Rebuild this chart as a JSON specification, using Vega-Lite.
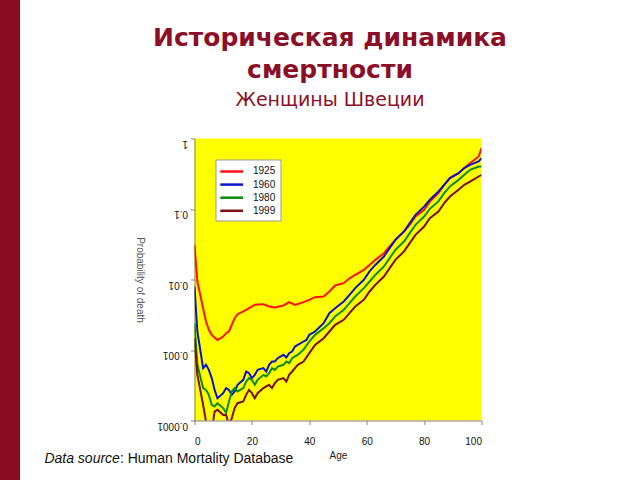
{
  "$schema": "https://vega.github.io/schema/vega-lite/v6.json",
  "background": "white",
  "padding": {"left": 0, "top": 0, "right": 0, "bottom": 0},
  "spacing": 23.5,
  "center": true,
  "bounds": "full",
  "resolve": {"legend": {"color": "independent"}},
  "config": {"font": "Liberation Sans", "view": {"stroke": null}},
  "datasets": {
    "mortality": [
      {"age":0,"year":"1925","q":0.031},{"age":1,"year":"1925","q":0.00937},{"age":3,"year":"1925","q":0.00392},{"age":4,"year":"1925","q":0.00254},{"age":5,"year":"1925","q":0.00193},{"age":6,"year":"1925","q":0.00164},{"age":7,"year":"1925","q":0.0015},{"age":8,"year":"1925","q":0.00139},{"age":10,"year":"1925","q":0.00155},{"age":11,"year":"1925","q":0.00173},{"age":12,"year":"1925","q":0.00183},{"age":13,"year":"1925","q":0.00228},{"age":14,"year":"1925","q":0.00283},{"age":15,"year":"1925","q":0.00322},{"age":17,"year":"1925","q":0.00352},{"age":18,"year":"1925","q":0.00371},{"age":19,"year":"1925","q":0.00392},{"age":20,"year":"1925","q":0.00414},{"age":21,"year":"1925","q":0.00437},{"age":24,"year":"1925","q":0.00447},{"age":26,"year":"1925","q":0.00414},{"age":28,"year":"1925","q":0.00401},{"age":31,"year":"1925","q":0.00428},{"age":33,"year":"1925","q":0.00477},{"age":35,"year":"1925","q":0.00437},{"age":38,"year":"1925","q":0.00477},{"age":40,"year":"1925","q":0.00515},{"age":42,"year":"1925","q":0.00562},{"age":45,"year":"1925","q":0.00574},{"age":47,"year":"1925","q":0.00676},{"age":49,"year":"1925","q":0.00822},{"age":52,"year":"1925","q":0.00887},{"age":54,"year":"1925","q":0.0104},{"age":56,"year":"1925","q":0.0116},{"age":59,"year":"1925","q":0.0137},{"age":61,"year":"1925","q":0.0161},{"age":63,"year":"1925","q":0.019},{"age":66,"year":"1925","q":0.0236},{"age":68,"year":"1925","q":0.0294},{"age":70,"year":"1925","q":0.0365},{"age":73,"year":"1925","q":0.048},{"age":75,"year":"1925","q":0.0596},{"age":77,"year":"1925","q":0.0783},{"age":80,"year":"1925","q":0.0973},{"age":82,"year":"1925","q":0.128},{"age":85,"year":"1925","q":0.168},{"age":87,"year":"1925","q":0.22},{"age":89,"year":"1925","q":0.274},{"age":92,"year":"1925","q":0.322},{"age":94,"year":"1925","q":0.38},{"age":96,"year":"1925","q":0.447},{"age":99,"year":"1925","q":0.556},{"age":100,"year":"1925","q":0.729},
      {"age":0,"year":"1960","q":0.00796},{"age":1,"year":"1960","q":0.00183},{"age":3,"year":"1960","q":0.000553},{"age":4,"year":"1960","q":0.000616},{"age":5,"year":"1960","q":0.000523},{"age":6,"year":"1960","q":0.000399},{"age":7,"year":"1960","q":0.000272},{"age":8,"year":"1960","q":0.000207},{"age":10,"year":"1960","q":0.000244},{"age":11,"year":"1960","q":0.000288},{"age":12,"year":"1960","q":0.000272},{"age":13,"year":"1960","q":0.000231},{"age":14,"year":"1960","q":0.000258},{"age":15,"year":"1960","q":0.000321},{"age":17,"year":"1960","q":0.000377},{"age":18,"year":"1960","q":0.000495},{"age":19,"year":"1960","q":0.000469},{"age":20,"year":"1960","q":0.000399},{"age":21,"year":"1960","q":0.000444},{"age":22,"year":"1960","q":0.000523},{"age":24,"year":"1960","q":0.000553},{"age":25,"year":"1960","q":0.000495},{"age":26,"year":"1960","q":0.000616},{"age":27,"year":"1960","q":0.000687},{"age":28,"year":"1960","q":0.000687},{"age":29,"year":"1960","q":0.000766},{"age":31,"year":"1960","q":0.000854},{"age":32,"year":"1960","q":0.000783},{"age":33,"year":"1960","q":0.000902},{"age":34,"year":"1960","q":0.000952},{"age":35,"year":"1960","q":0.00112},{"age":36,"year":"1960","q":0.00118},{"age":38,"year":"1960","q":0.00132},{"age":39,"year":"1960","q":0.00139},{"age":40,"year":"1960","q":0.00164},{"age":42,"year":"1960","q":0.00183},{"age":45,"year":"1960","q":0.0024},{"age":47,"year":"1960","q":0.00333},{"age":49,"year":"1960","q":0.00392},{"age":52,"year":"1960","q":0.00487},{"age":54,"year":"1960","q":0.00606},{"age":56,"year":"1960","q":0.00754},{"age":59,"year":"1960","q":0.00989},{"age":61,"year":"1960","q":0.013},{"age":63,"year":"1960","q":0.0161},{"age":66,"year":"1960","q":0.0212},{"age":68,"year":"1960","q":0.0278},{"age":70,"year":"1960","q":0.0365},{"age":73,"year":"1960","q":0.048},{"age":75,"year":"1960","q":0.063},{"age":77,"year":"1960","q":0.0827},{"age":80,"year":"1960","q":0.108},{"age":82,"year":"1960","q":0.135},{"age":85,"year":"1960","q":0.177},{"age":87,"year":"1960","q":0.22},{"age":89,"year":"1960","q":0.274},{"age":92,"year":"1960","q":0.322},{"age":94,"year":"1960","q":0.38},{"age":96,"year":"1960","q":0.423},{"age":99,"year":"1960","q":0.472},{"age":100,"year":"1960","q":0.526},
      {"age":0,"year":"1980","q":0.0024},{"age":1,"year":"1980","q":0.000616},{"age":3,"year":"1980","q":0.000288},{"age":4,"year":"1980","q":0.000272},{"age":5,"year":"1980","q":0.000231},{"age":6,"year":"1980","q":0.000167},{"age":7,"year":"1980","q":0.000158},{"age":8,"year":"1980","q":0.000176},{"age":10,"year":"1980","q":0.00015},{"age":11,"year":"1980","q":0.000127},{"age":12,"year":"1980","q":0.000186},{"age":13,"year":"1980","q":0.000258},{"age":14,"year":"1980","q":0.000288},{"age":15,"year":"1980","q":0.000258},{"age":17,"year":"1980","q":0.000288},{"age":18,"year":"1980","q":0.000357},{"age":19,"year":"1980","q":0.000399},{"age":20,"year":"1980","q":0.000377},{"age":21,"year":"1980","q":0.000321},{"age":22,"year":"1980","q":0.000377},{"age":24,"year":"1980","q":0.000444},{"age":25,"year":"1980","q":0.000421},{"age":26,"year":"1980","q":0.000469},{"age":27,"year":"1980","q":0.000553},{"age":28,"year":"1980","q":0.000523},{"age":29,"year":"1980","q":0.000583},{"age":31,"year":"1980","q":0.000616},{"age":32,"year":"1980","q":0.000687},{"age":33,"year":"1980","q":0.00065},{"age":34,"year":"1980","q":0.000766},{"age":35,"year":"1980","q":0.000809},{"age":36,"year":"1980","q":0.000854},{"age":38,"year":"1980","q":0.00101},{"age":40,"year":"1980","q":0.00132},{"age":42,"year":"1980","q":0.00164},{"age":45,"year":"1980","q":0.00204},{"age":47,"year":"1980","q":0.0024},{"age":49,"year":"1980","q":0.00299},{"age":52,"year":"1980","q":0.00371},{"age":54,"year":"1980","q":0.00462},{"age":56,"year":"1980","q":0.00574},{"age":59,"year":"1980","q":0.00754},{"age":61,"year":"1980","q":0.00937},{"age":63,"year":"1980","q":0.0116},{"age":66,"year":"1980","q":0.0153},{"age":68,"year":"1980","q":0.0201},{"age":70,"year":"1980","q":0.0263},{"age":73,"year":"1980","q":0.0346},{"age":75,"year":"1980","q":0.0454},{"age":77,"year":"1980","q":0.0596},{"age":80,"year":"1980","q":0.0783},{"age":82,"year":"1980","q":0.1006},{"age":85,"year":"1980","q":0.128},{"age":87,"year":"1980","q":0.168},{"age":89,"year":"1980","q":0.209},{"age":92,"year":"1980","q":0.259},{"age":94,"year":"1980","q":0.305},{"age":96,"year":"1980","q":0.359},{"age":99,"year":"1980","q":0.401},{"age":100,"year":"1980","q":0.401},
      {"age":0,"year":"1999","q":0.00147},{"age":1,"year":"1999","q":0.000444},{"age":3,"year":"1999","q":0.000167},{"age":4,"year":"1999","q":0.0000968},{"age":5,"year":"1999","q":0.0000698},{"age":6,"year":"1999","q":0.0000698},{"age":7,"year":"1999","q":0.000134},{"age":8,"year":"1999","q":0.000142},{"age":10,"year":"1999","q":0.00012},{"age":11,"year":"1999","q":0.00012},{"age":12,"year":"1999","q":0.0000868},{"age":13,"year":"1999","q":0.000108},{"age":14,"year":"1999","q":0.00015},{"age":15,"year":"1999","q":0.000176},{"age":17,"year":"1999","q":0.000186},{"age":18,"year":"1999","q":0.000231},{"age":19,"year":"1999","q":0.000272},{"age":20,"year":"1999","q":0.000244},{"age":21,"year":"1999","q":0.000207},{"age":22,"year":"1999","q":0.000244},{"age":24,"year":"1999","q":0.000288},{"age":25,"year":"1999","q":0.000304},{"age":26,"year":"1999","q":0.000321},{"age":27,"year":"1999","q":0.000288},{"age":28,"year":"1999","q":0.000338},{"age":29,"year":"1999","q":0.000377},{"age":31,"year":"1999","q":0.000399},{"age":32,"year":"1999","q":0.000357},{"age":33,"year":"1999","q":0.000444},{"age":34,"year":"1999","q":0.000495},{"age":35,"year":"1999","q":0.000553},{"age":36,"year":"1999","q":0.000616},{"age":38,"year":"1999","q":0.000687},{"age":40,"year":"1999","q":0.000902},{"age":42,"year":"1999","q":0.00118},{"age":45,"year":"1999","q":0.00147},{"age":47,"year":"1999","q":0.00183},{"age":49,"year":"1999","q":0.00228},{"age":52,"year":"1999","q":0.00268},{"age":54,"year":"1999","q":0.00333},{"age":56,"year":"1999","q":0.00414},{"age":59,"year":"1999","q":0.00515},{"age":61,"year":"1999","q":0.00676},{"age":63,"year":"1999","q":0.0084},{"age":66,"year":"1999","q":0.011},{"age":68,"year":"1999","q":0.0145},{"age":70,"year":"1999","q":0.019},{"age":73,"year":"1999","q":0.025},{"age":75,"year":"1999","q":0.0328},{"age":77,"year":"1999","q":0.043},{"age":80,"year":"1999","q":0.0565},{"age":82,"year":"1999","q":0.0741},{"age":85,"year":"1999","q":0.0922},{"age":87,"year":"1999","q":0.121},{"age":89,"year":"1999","q":0.15},{"age":92,"year":"1999","q":0.187},{"age":94,"year":"1999","q":0.22},{"age":96,"year":"1999","q":0.245},{"age":99,"year":"1999","q":0.289},{"age":100,"year":"1999","q":0.305}
    ]
  },
  "hconcat": [
    {
      "width": 20,
      "height": 604,
      "data": {"values": [{}]},
      "mark": {"type": "text", "text": ""},
      "encoding": {},
      "view": {"fill": "#8A0B22", "stroke": null}
    },
    {
      "width": 287,
      "height": 282,
      "view": {"fill": "#FFFF00", "stroke": null},
      "title": {
        "text": ["Историческая динамика", "смертности"],
        "subtitle": "Женщины Швеции",
        "anchor": "middle",
        "frame": "group",
        "font": "DejaVu Sans",
        "fontSize": 25,
        "fontWeight": "bold",
        "color": "#8C0F28",
        "lineHeight": 32,
        "subtitleFont": "DejaVu Sans",
        "subtitleFontSize": 19,
        "subtitleColor": "#8C0F28",
        "subtitleFontWeight": "normal",
        "subtitlePadding": 8,
        "offset": 28,
        "dx": -8
      },
      "layer": [
        {
          "data": {"name": "mortality"},
          "mark": {"type": "line", "strokeWidth": 2, "clip": true},
          "encoding": {
            "x": {
              "field": "age", "type": "quantitative",
              "scale": {"domain": [0, 100], "nice": false, "zero": false},
              "axis": {
                "title": "Age", "values": [0, 20, 40, 60, 80, 100], "grid": false,
                "labelFontSize": 10, "labelColor": "#111", "labelPadding": 12,
                "tickSize": 4, "tickColor": "#808080", "domainColor": "#808080",
                "titleFontSize": 10, "titleFontWeight": "normal", "titleColor": "#222", "titlePadding": 4
              }
            },
            "y": {
              "field": "q", "type": "quantitative",
              "scale": {"type": "log", "domain": [0.0001, 1], "nice": false},
              "axis": {
                "title": "Probability of death", "values": [0.0001, 0.001, 0.01, 0.1, 1], "format": "~g", "grid": false,
                "labelAngle": 180, "labelAlign": "left", "labelBaseline": "bottom",
                "labelFontSize": 10, "labelColor": "#111", "labelPadding": 3,
                "tickSize": 4, "tickColor": "#808080", "domainColor": "#808080",
                "titleAngle": 90, "titleBaseline": "top", "titleFontSize": 10, "titleFontWeight": "normal", "titleColor": "#555", "titlePadding": 12
              }
            },
            "color": {
              "field": "year", "type": "nominal",
              "scale": {"domain": ["1925", "1960", "1980", "1999"], "range": ["#FF1010", "#0A14C8", "#0A8C0A", "#7B0D0D"]},
              "legend": {
                "title": null, "orient": "top-left", "offset": 21,
                "fillColor": "white", "strokeColor": "#999999", "padding": 4.5,
                "symbolType": "M-1.2,0H2.6", "symbolSize": 144, "symbolStrokeWidth": 2.5,
                "rowPadding": 0.1, "labelOffset": 18, "labelFontSize": 10, "labelColor": "#111",
                "labelBaseline": "middle", "cornerRadius": 0
              }
            }
          }
        },
        {
          "data": {"values": [{"t": "Data source"}]},
          "mark": {"type": "text", "align": "right", "baseline": "middle", "fontSize": 14, "fontStyle": "italic", "color": "#111", "clip": false},
          "encoding": {"x": {"datum": -26}, "y": {"datum": 0.0000289}, "text": {"field": "t"}}
        },
        {
          "data": {"values": [{"t": ": Human Mortality Database"}]},
          "mark": {"type": "text", "align": "left", "baseline": "middle", "fontSize": 14, "color": "#111", "clip": false},
          "encoding": {"x": {"datum": -26}, "y": {"datum": 0.0000289}, "text": {"field": "t"}}
        }
      ]
    }
  ]
}
